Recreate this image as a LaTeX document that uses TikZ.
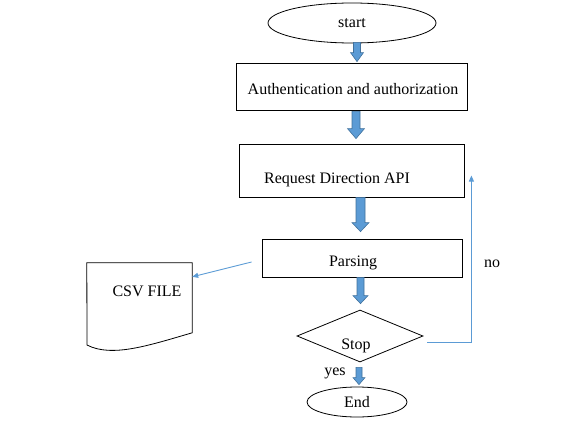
\documentclass[tikz,border=0pt]{standalone}
\usepackage{fontspec}
\setmainfont{Liberation Serif}
\usetikzlibrary{shapes.geometric,calc,arrows.meta}
\definecolor{arrfill}{HTML}{5B9BD5}
\definecolor{arrline}{HTML}{41719C}
\newcommand{\blockarr}[5]{%
  \filldraw[barrow] let \p1=#1, \p2=#2 in
    (\x1-#3,\y1) -- (\x1-#3,\y2+#5) -- (\x1-#4,\y2+#5) -- (\x1,\y2)
    -- (\x1+#4,\y2+#5) -- (\x1+#3,\y2+#5) -- (\x1+#3,\y1) -- cycle;}
\tikzset{
  every node/.style={font=\fontsize{16}{19}\selectfont},
  box/.style={draw, line width=0.8pt, inner sep=0pt},
  barrow/.style={fill=arrfill, draw=arrline, line width=0.6pt},
  thinarrow/.style={draw=arrfill, line width=0.9pt, -{Triangle[length=6pt,width=5pt]}},
}
\begin{document}
\begin{tikzpicture}[x=1pt,y=-1pt]
\useasboundingbox (0,0) rectangle (577,433);
\node[box, ellipse, minimum width=168pt, minimum height=40pt] (start) at (352,23) {start};
\node[box, rectangle, minimum width=231pt, minimum height=47pt] (auth) at (351.5,86.5) {};
\node at (353,89) {Authentication and authorization};
\node[box, rectangle, minimum width=225pt, minimum height=53pt,
  label={[xshift=-14.5pt,yshift=-9.5pt]center:Request Direction API}] (req) at (351.5,170.5) {};
\node[box, rectangle, minimum width=200pt, minimum height=38pt,
  label={[xshift=-9pt,yshift=-5pt]center:Parsing}] (parse) at (362,258) {};
\node[box, diamond, aspect=2.42, minimum width=126pt, minimum height=52pt,
  label={[xshift=-4pt,yshift=-10pt]center:Stop}] (stop) at (360,336) {};
\node[box, ellipse, minimum width=100pt, minimum height=30pt] (end) at (357,402) {End};
% CSV document
\node[minimum width=105pt, minimum height=82pt, inner sep=0pt] (csv) at (139.5,304) {};
\draw[line width=0.8pt] (csv.north west) -- (csv.north east) -- ($(csv.north east)+(0,70)$)
  .. controls (150,345) and (112,358) .. (87,345) -- cycle;
\node at (147,291) {CSV FILE};
% block arrows
\blockarr{($(start.south)+(5,-1)$)}{($(auth.north)+(0,-1)$)}{3.5pt}{6.5pt}{9pt}
\blockarr{($(auth.south)+(4.5,1)$)}{($(req.north)+(0,-5)$)}{4pt}{8.5pt}{10pt}
\blockarr{($(req.south)+(9,0)$)}{($(parse.north)+(0,-7)$)}{4.5pt}{8.5pt}{9pt}
\blockarr{($(parse.south)+(-1.5,0)$)}{($(stop.north)+(0,-6)$)}{3.5pt}{7.5pt}{8pt}
\blockarr{($(stop.south)+(-1,5)$)}{($(end.north)+(0,-2)$)}{3pt}{6pt}{7pt}
% thin connectors
\draw[thinarrow] ($(parse.west)+(-10,4)$) -- ($(csv.north east)+(0,14)$);
\draw[thinarrow] ($(stop.east)+(4,6)$) -| ($(req.east)+(7,5)$);
\node at (492,264) {no};
\node at (335,373) {yes};
\end{tikzpicture}
\end{document}
